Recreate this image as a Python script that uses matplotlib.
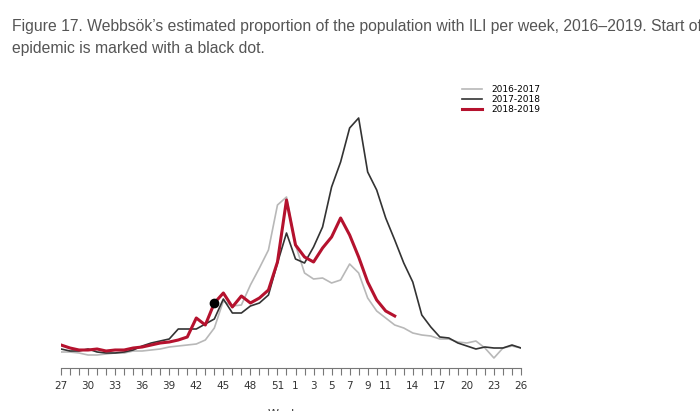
import numpy as np
import matplotlib.pyplot as plt

# weeks 27..52 followed by 1..26
weeks = list(range(27, 53)) + list(range(1, 27))
tick_weeks = [27, 30, 33, 36, 39, 42, 45, 48, 51, 1, 3, 5, 7, 9, 11, 14, 17, 20, 23, 26]

ili_2016_2017 = [0.16, 0.16, 0.15, 0.13, 0.13, 0.14, 0.15, 0.15, 0.17, 0.17, 0.18, 0.19, 0.21,
                 0.22, 0.23, 0.24, 0.28, 0.40, 0.67, 0.62, 0.63, 0.83, 1.00, 1.18, 1.63, 1.71,
                 1.23, 0.95, 0.89, 0.90, 0.85, 0.88, 1.04, 0.95, 0.70, 0.57, 0.50, 0.43, 0.40,
                 0.35, 0.33, 0.32, 0.29, 0.29, 0.26, 0.25, 0.27, 0.20, 0.10, 0.20, 0.22, 0.20]
ili_2017_2018 = [0.19, 0.17, 0.17, 0.19, 0.16, 0.15, 0.15, 0.16, 0.18, 0.22, 0.25, 0.27, 0.29,
                 0.39, 0.39, 0.39, 0.44, 0.49, 0.69, 0.55, 0.55, 0.62, 0.65, 0.73, 1.05, 1.35,
                 1.09, 1.05, 1.21, 1.41, 1.81, 2.06, 2.40, 2.50, 1.96, 1.78, 1.50, 1.28, 1.05,
                 0.86, 0.53, 0.41, 0.31, 0.30, 0.25, 0.22, 0.19, 0.21, 0.20, 0.20, 0.23, 0.20]
ili_2018_2019 = [0.23, 0.20, 0.18, 0.18, 0.19, 0.17, 0.18, 0.18, 0.20, 0.21, 0.23, 0.25, 0.26,
                 0.28, 0.31, 0.50, 0.43, 0.65, 0.75, 0.61, 0.72, 0.65, 0.70, 0.78, 1.06, 1.68,
                 1.23, 1.11, 1.06, 1.20, 1.31, 1.50, 1.33, 1.11, 0.86, 0.68, 0.57, 0.52]
epidemic_start_week = 44  # 2018-2019

x = np.arange(len(weeks))

fig = plt.figure(figsize=(7, 4.11), dpi=100)
ax = fig.add_axes([61/700, 43/411, 460/700, 268/411])

ax.plot(x, ili_2016_2017, color='#b8b8b8', lw=1.2, label='2016-2017')
ax.plot(x, ili_2017_2018, color='#333333', lw=1.2, label='2017-2018')
ax.plot(x[:len(ili_2018_2019)], ili_2018_2019, color='#b5122e', lw=2.2, label='2018-2019')

i0 = weeks.index(epidemic_start_week)
ax.plot(x[i0], ili_2018_2019[i0], 'o', color='black', ms=6, zorder=5)

ax.set_xlim(0, 51)
ax.set_ylim(0, 2.68)
ax.set_xticks([weeks.index(w) for w in tick_weeks])
ax.set_xticklabels([str(w) for w in tick_weeks])
ax.set_xticks(x, minor=True)
ax.tick_params(axis='x', which='both', direction='out', length=5, width=0.8,
               color='#777777', labelsize=7.5, labelcolor='#333333', pad=4)
ax.set_yticks([])
for s in ['top', 'right', 'left']:
    ax.spines[s].set_visible(False)
ax.spines['bottom'].set_color('#777777')
ax.spines['bottom'].set_linewidth(0.8)

fig.legend(loc='upper left', bbox_to_anchor=(454/700, 1 - 77/411), frameon=False,
           fontsize=6.5, handlelength=2.2, labelspacing=0.1, handletextpad=1.0)

title_font = ['Liberation Sans', 'DejaVu Sans']
fig.text(12/700, 1 - 27/411,
         "Figure 17. Webbsök\u2019s estimated proportion of the population with ILI per week, 2016\u20132019. Start of",
         fontsize=11.3, color='#555555', family=title_font, va='center')
fig.text(12/700, 1 - 48/411, "epidemic is marked with a black dot.",
         fontsize=11.3, color='#555555', family=title_font, va='center')
fig.text(268/700, 2/411, 'Week', fontsize=8, color='#333333', va='top', ha='left')

fig.savefig('out.png', dpi=100)
